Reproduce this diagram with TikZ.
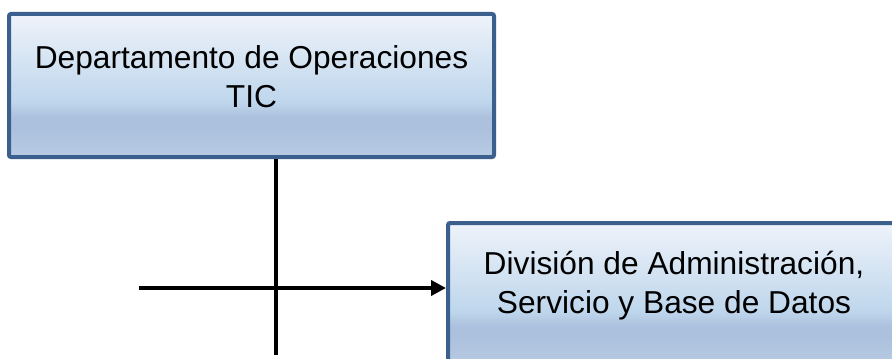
\documentclass[tikz,border=0pt]{standalone}
\usepackage{fontspec}
\setmainfont{Liberation Sans}
\usetikzlibrary{arrows.meta, positioning, calc}
\definecolor{boxborder}{RGB}{60,96,142}
\definecolor{shadetop}{RGB}{238,243,250}
\definecolor{shademid}{RGB}{190,214,236}
\definecolor{shadeband}{RGB}{172,193,221}
\definecolor{shadebottom}{RGB}{184,203,228}
\pgfdeclareverticalshading{unitshade}{100bp}{color(0bp)=(shadebottom); color(25bp)=(shadebottom); color(35bp)=(shadeband); color(39bp)=(shadeband); color(44bp)=(shademid); color(75bp)=(shadetop); color(100bp)=(shadetop)}
\tikzstyle{unit} = [rectangle, draw=boxborder, line width=2pt, shading=unitshade, rounded corners=1pt]
\tikzstyle{unittext} = [align=center, font=\fontsize{15.85}{19.3}\selectfont, inner sep=0pt]
\tikzstyle{connector} = [line width=2pt, black]

\begin{document}
\begin{tikzpicture}[x=0.5pt, y=-0.5pt]
  \useasboundingbox (0,0) rectangle (892,358);
  \clip (0,0) rectangle (892,358);

  \node[unit, minimum width=242.5pt, minimum height=71.5pt] (ops) at (251.5,85.5) {};
  \node[unittext] (opsname) at ($(ops.center)+(0,-9)$) {Departamento de Operaciones\\TIC};

  \node[unit, minimum width=226pt, minimum height=71.5pt] (div) at (674,294.5) {};
  \node[unittext] (divname) at ($(div.center)+(0,-9)$) {División de Administración,\\Servicio y Base de Datos};

  \coordinate (trunk) at (276,355);
  \coordinate (feed) at (139,288);

  \draw[connector] (trunk |- ops.south) -- (trunk);
  \draw[connector, -{Triangle[length=7.5pt, width=7.5pt]}] (feed) -- (feed -| div.west);
\end{tikzpicture}
\end{document}
